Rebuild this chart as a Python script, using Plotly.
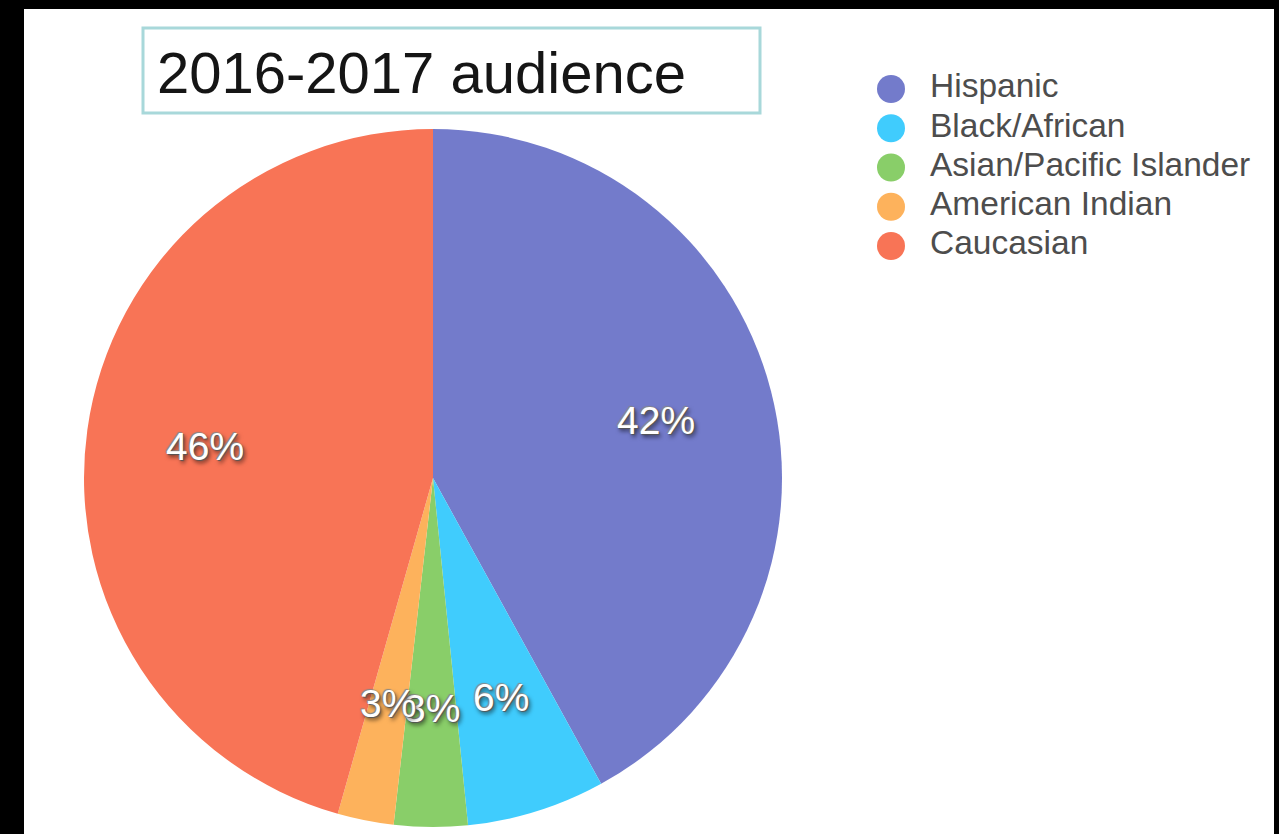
import math
import plotly.graph_objects as go

# ---- data ----
categories = ["Hispanic", "Black/African", "Asian/Pacific Islander", "American Indian", "Caucasian"]
shares = [42.0, 6.4, 3.4, 2.6, 45.6]
colors = ["#737BCB", "#40CCFD", "#89CE69", "#FDB25C", "#F87456"]
title_text = "2016-2017 audience"

# ---- layout geometry (pixels) ----
W, H = 1279, 834
cx, cy, R = 433, 478, 349
FONT = "Liberation Sans, Arial, Helvetica, sans-serif"

def px(x):
    return x / W

def py(y):
    return 1 - y / H

fig = go.Figure()

fig.add_trace(go.Pie(
    labels=categories, values=shares,
    marker=dict(colors=colors, line=dict(width=0)),
    sort=False, direction="clockwise", rotation=0,
    textinfo="none", hoverinfo="label+percent", showlegend=False,
    domain=dict(x=[px(cx - R), px(cx + R)], y=[py(cy + R), py(cy - R)]),
))

# percentage labels at 0.66 R along each slice's mid-angle
total = sum(shares)
cum = 0.0
annotations = []
for v in shares:
    ang = (cum + v / 2) / total * 2 * math.pi
    cum += v
    lx = cx + 0.66 * R * math.sin(ang)
    ly = cy - 0.66 * R * math.cos(ang)
    annotations.append(dict(
        x=px(lx), y=py(ly), xref="paper", yref="paper",
        text=f"{round(v / total * 100)}%", showarrow=False,
        xanchor="center", yanchor="middle",
        font=dict(family=FONT, size=39, color="white",
                  shadow="1px 1px 1px #555, -1px -1px 1px #888, 2px 3px 4px rgba(0,0,0,0.6)"),
    ))

# title
annotations.append(dict(
    x=px(155), y=py(72), xref="paper", yref="paper", text=title_text,
    showarrow=False, xanchor="left", yanchor="middle",
    font=dict(family=FONT, size=58, color="#151515"),
))

# custom legend: circles + text on a hidden axis
row0, rowstep = 89, 39.25
mx, tx = 891, 930
unit = tx - mx
idx = list(range(len(categories)))
fig.add_trace(go.Scatter(
    x=[0] * len(categories), y=idx, mode="markers",
    marker=dict(size=28, color=colors), text=categories, hoverinfo="text",
    showlegend=False,
))
fig.add_trace(go.Scatter(
    x=[1] * len(categories), y=idx, mode="text", text=categories,
    textposition="middle right",
    textfont=dict(family=FONT, size=33.5, color="#4d4d4d"),
    hoverinfo="skip", showlegend=False,
))

shapes = [
    dict(type="rect", xref="paper", yref="paper", x0=px(143), x1=px(760), y0=py(113), y1=py(28),
         line=dict(color="#A8D8DA", width=3), fillcolor="rgba(0,0,0,0)"),
    # black frame
    dict(type="rect", xref="paper", yref="paper", x0=0, x1=px(24), y0=0, y1=1,
         line=dict(width=0), fillcolor="black"),
    dict(type="rect", xref="paper", yref="paper", x0=0, x1=1, y0=py(9), y1=1,
         line=dict(width=0), fillcolor="black"),
    dict(type="rect", xref="paper", yref="paper", x0=px(1274), x1=1, y0=0, y1=1,
         line=dict(width=0), fillcolor="black"),
]

fig.update_layout(
    width=W, height=H,
    margin=dict(l=0, r=0, t=0, b=0),
    paper_bgcolor="white", plot_bgcolor="rgba(0,0,0,0)",
    xaxis=dict(visible=False, domain=[0, 1], range=[-mx / unit, (W - mx) / unit], fixedrange=True),
    yaxis=dict(visible=False, domain=[0, 1], range=[(H - row0) / rowstep, -row0 / rowstep], fixedrange=True),
    annotations=annotations, shapes=shapes,
    hovermode="closest",
)

fig.write_html(
    "out.html",
    config={"displayModeBar": False},
    post_script="document.body.style.margin='0';document.body.style.overflow='hidden';",
)
